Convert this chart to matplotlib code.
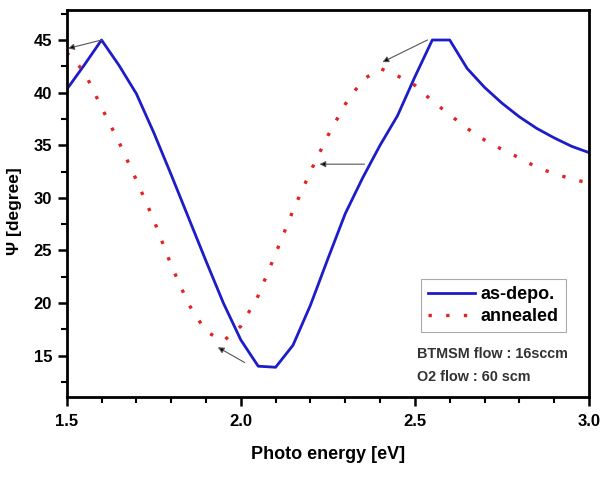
import matplotlib.pyplot as plt
import numpy as np

plt.rcParams['font.family'] = ['Liberation Sans', 'DejaVu Sans']
plt.rcParams['font.weight'] = 'bold'

# photon energy grid [eV]
energy = [1.50, 1.55, 1.60, 1.65, 1.70, 1.75, 1.80, 1.85, 1.90, 1.95,
          2.00, 2.05, 2.10, 2.15, 2.20, 2.25, 2.30, 2.35, 2.40, 2.45,
          2.50, 2.55, 2.60, 2.65, 2.70, 2.75, 2.80, 2.85, 2.90, 2.95, 3.00]

psi_asdepo = [40.3, 42.6, 45.0, 42.6, 39.9, 36.2, 32.2, 28.1, 24.0, 20.0,
              16.5, 14.0, 13.9, 16.0, 19.8, 24.2, 28.5, 31.9, 35.0, 37.8,
              41.5, 45.0, 45.0, 42.3, 40.5, 39.0, 37.7, 36.6, 35.7, 34.9, 34.3]

psi_annealed = [43.8, 42.0, 38.6, 35.3, 31.7, 27.9, 23.6, 19.9, 17.3, 16.4,
                17.8, 20.7, 24.7, 28.8, 32.5, 35.9, 38.9, 41.2, 42.3, 41.6,
                40.7, 39.2, 37.9, 36.6, 35.5, 34.6, 33.8, 32.9, 32.3, 31.8, 31.4]

# arrows: (tail x, tail y) -> (head x, head y)
arrow_tails = [(1.60, 45.0), (2.536, 45.0), (2.355, 33.2), (2.011, 14.35)]
arrow_heads = [(1.504, 44.2), (2.407, 42.9), (2.226, 33.2), (1.934, 15.8)]

fig = plt.figure(figsize=(6.01, 4.86), dpi=100)
ax = fig.add_axes([0.111, 0.1837, 0.869, 0.7957])

ax.plot(energy, psi_asdepo, color='#1c1cc8', lw=2.0, label='as-depo.')
ax.plot(energy, psi_annealed, color='#e02424', lw=2.4,
        linestyle=(0, (1.0, 4.3)), label='annealed')

for (tx, ty), (hx, hy) in zip(arrow_tails, arrow_heads):
    ax.annotate('', xy=(hx, hy), xytext=(tx, ty),
                arrowprops=dict(arrowstyle='-|>', color='#888888', lw=0.8,
                                mutation_scale=9, shrinkA=0, shrinkB=0,
                                fc='black', ec='#555555'))

ax.set_xlim(1.5, 3.0)
ax.set_ylim(11.1, 47.85)
ax.set_xticks([1.5, 2.0, 2.5, 3.0])
ax.set_xticks(np.arange(1.6, 3.0, 0.1), minor=True)
ax.set_yticks([15, 20, 25, 30, 35, 40, 45])
ax.set_yticks([12.5, 17.5, 22.5, 27.5, 32.5, 37.5, 42.5, 47.5], minor=True)
ax.tick_params(which='major', direction='out', length=6.5, width=1.8,
               labelsize=12, pad=4, top=False, right=False)
ax.tick_params(axis='x', which='major', pad=6)
ax.tick_params(which='minor', direction='out', length=4.5, width=1.5,
               top=False, right=False)
for lab in ax.get_xticklabels() + ax.get_yticklabels():
    lab.set_fontweight('bold')
for s in ax.spines.values():
    s.set_linewidth(2.0)

ax.set_xlabel('Photo energy [eV]', fontsize=13, fontweight='bold', labelpad=12)
ax.set_ylabel('Ψ [degree]', fontsize=12.5, fontweight='bold')
ax.yaxis.set_label_coords(-0.085, 0.48)

leg = ax.legend(loc='lower right', bbox_to_anchor=(0.956, 0.167),
                borderaxespad=0, fontsize=13, handlelength=2.6,
                handletextpad=0.3, borderpad=0.4, labelspacing=0.25,
                fancybox=False, framealpha=1.0, edgecolor='#aaaaaa')
leg.get_frame().set_linewidth(0.8)
for t in leg.get_texts():
    t.set_fontweight('bold')

ax.text(2.505, 15.2, 'BTMSM flow : 16sccm', fontsize=10.4, fontweight='bold',
        color='#333333', va='center')
ax.text(2.505, 13.0, 'O2 flow : 60 scm', fontsize=10.4, fontweight='bold',
        color='#333333', va='center')

fig.savefig('out.png', dpi=100)
